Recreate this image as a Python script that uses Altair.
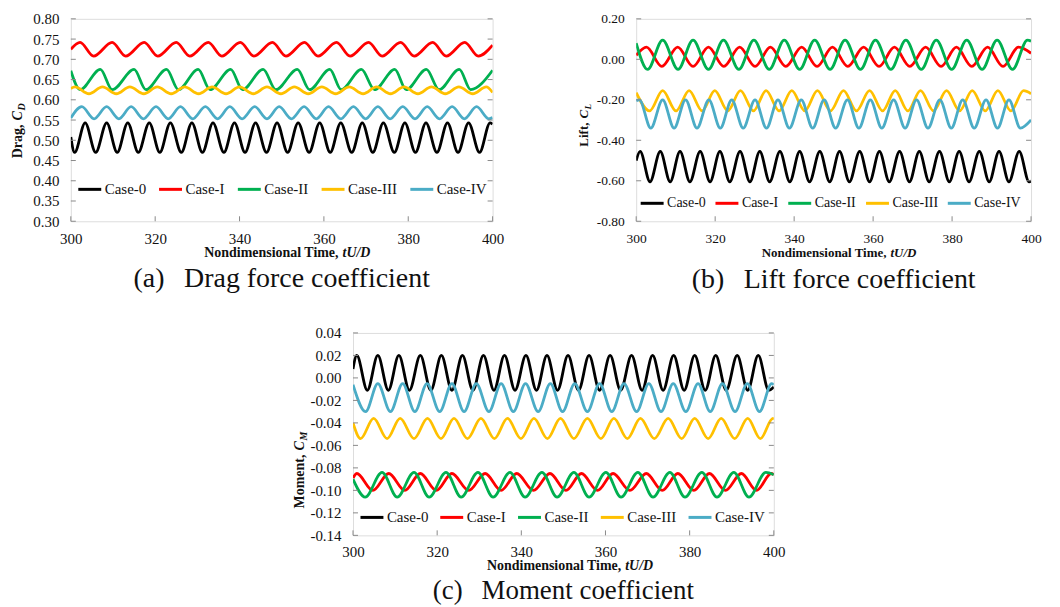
import altair as alt
import pandas as pd

CASES = ["Case-0", "Case-I", "Case-II", "Case-III", "Case-IV"]
COLORS = ["#000000", "#FF0000", "#00B050", "#FFC000", "#4BACC6"]
SERIF = "Liberation Serif"
FRAME = "#8a8a8a"
NB = "\u00a0"

X_TICKS = [300, 320, 340, 360, 380, 400]
DRAG_TICKS = [0.30, 0.35, 0.40, 0.45, 0.50, 0.55, 0.60, 0.65, 0.70, 0.75, 0.80]
LIFT_TICKS = [-0.80, -0.60, -0.40, -0.20, 0.00, 0.20]
MOM_TICKS = [-0.14, -0.12, -0.10, -0.08, -0.06, -0.04, -0.02, 0.00, 0.02, 0.04]

# levels = [peak value, trough value, value at t=300, value at t=400]
# ---- (a) drag ----
drag0_peaks = [303.4, 308.5, 313.5, 318.6, 323.6, 328.7, 333.7, 338.8, 343.8, 348.9, 353.9, 359.0, 364.0, 369.1, 374.1, 379.2, 384.2, 389.3, 394.3, 399.4]
drag0_troughs = [300.9, 305.9, 311.0, 316.0, 321.1, 326.2, 331.2, 336.3, 341.3, 346.4, 351.4, 356.5, 361.5, 366.6, 371.6, 376.7, 381.7, 386.8, 391.8, 396.9]
drag0_levels = [0.543, 0.470, 0.508, 0.540]
drag1_peaks = [302.2, 309.8, 317.4, 325.0, 332.6, 340.2, 347.8, 355.4, 363.0, 370.6, 378.2, 385.8, 393.4]
drag1_troughs = [305.4, 313.0, 320.6, 328.2, 335.8, 343.4, 351.0, 358.6, 366.2, 373.8, 381.4, 389.0, 396.6]
drag1_levels = [0.742, 0.708, 0.725, 0.735]
drag2_peaks = [307.0, 315.0, 322.7, 330.2, 337.9, 345.6, 353.7, 361.4, 368.9, 376.8, 384.3, 392.1]
drag2_troughs = [302.2, 309.8, 317.8, 325.5, 333.0, 340.7, 348.6, 356.6, 364.1, 372.0, 379.5, 387.3, 394.8]
drag2_levels = [0.675, 0.625, 0.672, 0.673]
drag3_peaks = [301.0, 307.5, 314.0, 320.5, 327.0, 333.5, 340.0, 346.5, 353.0, 359.5, 366.0, 372.5, 379.0, 385.5, 392.0, 398.5]
drag3_troughs = [304.3, 310.8, 317.3, 323.8, 330.3, 336.8, 343.3, 349.8, 356.3, 362.8, 369.3, 375.8, 382.3, 388.8, 395.3]
drag3_levels = [0.632, 0.615, 0.628, 0.618]
drag4_peaks = [302.6, 308.5, 314.3, 320.2, 326.0, 331.9, 337.7, 343.6, 349.4, 355.3, 361.1, 367.0, 372.8, 378.7, 384.5, 390.4, 396.2]
drag4_troughs = [305.5, 311.4, 317.2, 323.1, 328.9, 334.8, 340.6, 346.5, 352.3, 358.2, 364.0, 369.9, 375.7, 381.6, 387.4, 393.3, 399.1]
drag4_levels = [0.583, 0.553, 0.555, 0.556]

# ---- (b) lift ----
lift0_peaks = [301.0, 306.1, 311.1, 316.2, 321.2, 326.3, 331.3, 336.4, 341.4, 346.5, 351.5, 356.6, 361.6, 366.7, 371.7, 376.8, 381.8, 386.9, 391.9, 397.0]
lift0_troughs = [303.5, 308.6, 313.6, 318.7, 323.7, 328.8, 333.8, 338.9, 343.9, 349.0, 354.0, 359.1, 364.1, 369.2, 374.2, 379.3, 384.3, 389.4, 394.4, 399.5]
lift0_levels = [-0.455, -0.605, -0.50, -0.600]
lift1_peaks = [302.6, 310.5, 318.3, 326.2, 334.0, 341.9, 349.7, 357.6, 365.4, 373.3, 381.1, 389.0, 396.8]
lift1_troughs = [306.5, 314.4, 322.2, 330.1, 337.9, 345.8, 353.6, 361.5, 369.3, 377.2, 385.0, 392.9]
lift1_levels = [0.060, -0.035, 0.020, 0.030]
lift2_peaks = [306.7, 314.4, 322.1, 329.8, 337.5, 345.2, 352.9, 360.6, 368.3, 376.0, 383.7, 391.4, 399.1]
lift2_troughs = [302.9, 310.6, 318.3, 326.0, 333.7, 341.4, 349.1, 356.8, 364.5, 372.2, 379.9, 387.6, 395.3]
lift2_levels = [0.095, -0.050, 0.080, 0.090]
lift3_peaks = [306.7, 313.4, 319.9, 326.4, 332.9, 339.4, 345.9, 352.5, 359.1, 365.6, 372.0, 378.6, 385.1, 391.6, 398.1]
lift3_troughs = [303.4, 310.1, 316.7, 323.2, 329.7, 336.2, 342.7, 349.2, 355.8, 362.4, 368.8, 375.3, 381.9, 388.4, 394.9]
lift3_levels = [-0.155, -0.255, -0.165, -0.170]
lift4_peaks = [300.8, 306.7, 312.5, 318.4, 324.2, 330.1, 335.9, 341.8, 347.6, 353.5, 359.3, 365.2, 371.0, 376.9, 382.7, 388.6, 394.4]
lift4_troughs = [303.7, 309.6, 315.4, 321.3, 327.1, 333.0, 338.8, 344.7, 350.5, 356.4, 362.2, 368.1, 373.9, 379.8, 385.6, 391.5, 397.3]
lift4_levels = [-0.200, -0.340, -0.205, -0.300]

# ---- (c) moment ----
mom0_peaks = [300.9, 305.9, 310.9, 316.0, 321.0, 326.0, 331.0, 336.0, 341.1, 346.1, 351.1, 356.1, 361.1, 366.2, 371.2, 376.2, 381.2, 386.2, 391.3, 396.3]
mom0_troughs = [303.4, 308.4, 313.4, 318.5, 323.5, 328.5, 333.5, 338.5, 343.6, 348.6, 353.6, 358.6, 363.6, 368.7, 373.7, 378.7, 383.7, 388.7, 393.8, 398.8]
mom0_levels = [0.020, -0.011, 0.008, -0.008]
mom1_peaks = [300.9, 308.5, 316.0, 323.5, 331.4, 338.9, 346.8, 354.3, 361.8, 369.7, 377.2, 384.7, 392.3, 399.4]
mom1_troughs = [304.7, 312.3, 319.8, 327.5, 335.2, 342.9, 350.6, 358.1, 365.8, 373.5, 381.0, 388.5, 395.9]
mom1_levels = [-0.085, -0.100, -0.089, -0.086]
mom2_peaks = [306.9, 314.5, 322.1, 329.7, 337.3, 344.9, 352.5, 360.1, 367.7, 375.3, 382.9, 390.5, 398.1]
mom2_troughs = [302.9, 310.5, 318.1, 325.7, 333.3, 340.9, 348.5, 356.1, 363.7, 371.3, 378.9, 386.5, 394.1]
mom2_levels = [-0.084, -0.106, -0.090, -0.086]
mom3_peaks = [304.9, 311.2, 317.7, 324.0, 330.4, 336.7, 343.0, 349.3, 355.7, 362.0, 368.3, 374.9, 381.2, 387.5, 393.8, 399.8]
mom3_troughs = [301.8, 308.1, 314.5, 320.9, 327.2, 333.6, 339.9, 346.2, 352.5, 358.9, 365.2, 371.6, 378.1, 384.4, 390.7, 396.8]
mom3_levels = [-0.036, -0.054, -0.040, -0.037]
mom4_peaks = [305.9, 311.8, 317.6, 323.5, 329.3, 335.2, 341.0, 346.9, 352.7, 358.6, 364.4, 370.3, 376.1, 382.0, 387.8, 393.7, 399.5]
mom4_troughs = [303.0, 308.9, 314.7, 320.6, 326.4, 332.3, 338.1, 344.0, 349.8, 355.7, 361.5, 367.4, 373.2, 379.1, 384.9, 390.8, 396.6]
mom4_levels = [-0.005, -0.030, -0.006, -0.006]


def build_df(series):
    rows = []
    for case, (pk, tr, lv) in zip(CASES, series):
        pts = [(300.0, lv[2])] + [(t, lv[0]) for t in pk] + [(t, lv[1]) for t in tr] + [(400.0, lv[3])]
        pts.sort()
        for i, (t, v) in enumerate(pts):
            rows.append({"case": case, "t": t, "v": v, "o": i})
    return pd.DataFrame(rows)


ONE = pd.DataFrame({"a": [0]})


def txt(x, y, s, size, weight="normal", style="normal", align="center", baseline="middle", angle=0, opacity=1):
    return alt.Chart(ONE).mark_text(
        font=SERIF, fontSize=size, fontWeight=weight, fontStyle=style, align=align,
        baseline=baseline, angle=angle, color="#111111", opacity=opacity,
    ).encode(x=alt.value(x), y=alt.value(y), text=alt.value(s))


def panel(series, ydom, yticks, w, h, p):
    df = build_df(series)
    xs = alt.Scale(domain=[300, 400], nice=False, zero=False)
    ys = alt.Scale(domain=ydom, nice=False, zero=False)
    lab = "replace(format(datum.value, '.2f'), '\u2212', '-')"
    xaxis = alt.Axis(values=X_TICKS, format="d", ticks=False, tickSize=0, domain=False, grid=False,
                     title=None, labelFont=SERIF, labelFontSize=p["fs"], labelColor="#111111",
                     labelPadding=p["xpad"], labelFlush=False, labelOverlap=False)
    yaxis = alt.Axis(values=yticks, labelExpr=lab, ticks=False, tickSize=0, domain=False, grid=False,
                     title=None, labelFont=SERIF, labelFontSize=p["fs"], labelColor="#111111",
                     labelPadding=p["ypad"], labelFlush=False, labelOverlap=False)
    lines = alt.Chart(df).mark_line(interpolate="monotone", strokeWidth=2.8, clip=True).encode(
        x=alt.X("t:Q", scale=xs, axis=xaxis),
        y=alt.Y("v:Q", scale=ys, axis=yaxis),
        color=alt.Color("case:N", scale=alt.Scale(domain=CASES, range=COLORS),
                        legend=alt.Legend(orient="none", legendX=p["lx"], legendY=p["ly"],
                                          direction="horizontal", title=None, symbolType="stroke",
                                          symbolStrokeWidth=3, symbolSize=529, labelFont=SERIF,
                                          labelFontSize=p["lfs"], labelColor="#111111",
                                          columnPadding=p["lgap"], labelOffset=2, padding=0)),
        order="o:Q",
    )
    ytdf = pd.DataFrame({"v": yticks})
    xtdf = pd.DataFrame({"t": X_TICKS})
    tl = alt.Chart(ytdf).mark_rule(color=FRAME, strokeWidth=1).encode(
        y=alt.Y("v:Q", scale=ys, axis=yaxis), x=alt.value(0), x2=alt.value(5))
    tr = alt.Chart(ytdf).mark_rule(color=FRAME, strokeWidth=1).encode(
        y=alt.Y("v:Q", scale=ys, axis=yaxis), x=alt.value(w - 5), x2=alt.value(w))
    tb = alt.Chart(xtdf).mark_rule(color=FRAME, strokeWidth=1).encode(
        x=alt.X("t:Q", scale=xs, axis=xaxis), y=alt.value(h - 5), y2=alt.value(h))
    cx = w / 2
    layers = [lines, tl, tr, tb,
              txt(cx + p["split"], h + p["xt"], "Nondimensional Time,", p["tfs"], "bold", align="right"),
              txt(cx + p["split"] + 4, h + p["xt"], "tU/D", p["tfs"], "bold", "italic", align="left"),
              txt(p["yx"], p["ysplit"], p["yname"], p["tfs"], "bold", align="right", angle=270),
              txt(p["yx"], p["ysplit"] - 4, "C", p["tfs"], "bold", "italic", align="left", angle=270),
              txt(p["yx"] + 4, p["ysplit"] - 4 - p["cw"], p["sub"], p["tfs"] - 4, "bold", "italic",
                  align="left", angle=270),
              txt(cx, h + p["cap"], p["caption"], p["capfs"]),
              txt(p["left"], -8, ".", 1, opacity=0, align="left"),
              txt(w + p["right"], h + 75, ".", 1, opacity=0, align="right")]
    return alt.layer(*layers).properties(width=w, height=h)


H = 203
GAP = NB + NB + "\u2009"
pa = dict(fs=15, xpad=10, ypad=12, lx=6, ly=158, lfs=15, lgap=6, tfs=14, split=57, xt=32,
          yx=-53, ysplit=106, yname="Drag,", sub="D", cw=10,
          caption="(a)" + GAP + "Drag force coefficient", capfs=28, cap=58, left=-62, right=20)
pb = dict(fs=13.5, xpad=10, ypad=12, lx=3, ly=172, lfs=14, lgap=3, tfs=13, split=53, xt=32,
          yx=-52, ysplit=104, yname="Lift,", sub="L", cw=9,
          caption="(b)" + GAP + "Lift force coefficient", capfs=28, cap=59, left=-60, right=20)
pc = dict(fs=15, xpad=9, ypad=12, lx=6, ly=172, lfs=15, lgap=5, tfs=14, split=58, xt=31,
          yx=-53, ysplit=122, yname="Moment,", sub="M", cw=10,
          caption="(c)" + GAP + "Moment coefficient", capfs=27, cap=56, left=-60, right=20)

A = panel([(drag0_peaks, drag0_troughs, drag0_levels), (drag1_peaks, drag1_troughs, drag1_levels),
           (drag2_peaks, drag2_troughs, drag2_levels), (drag3_peaks, drag3_troughs, drag3_levels),
           (drag4_peaks, drag4_troughs, drag4_levels)], [0.30, 0.80], DRAG_TICKS, 423, H, pa)
B = panel([(lift0_peaks, lift0_troughs, lift0_levels), (lift1_peaks, lift1_troughs, lift1_levels),
           (lift2_peaks, lift2_troughs, lift2_levels), (lift3_peaks, lift3_troughs, lift3_levels),
           (lift4_peaks, lift4_troughs, lift4_levels)], [-0.80, 0.20], LIFT_TICKS, 396, H, pb)
C = panel([(mom0_peaks, mom0_troughs, mom0_levels), (mom1_peaks, mom1_troughs, mom1_levels),
           (mom2_peaks, mom2_troughs, mom2_levels), (mom3_peaks, mom3_troughs, mom3_levels),
           (mom4_peaks, mom4_troughs, mom4_levels)], [-0.14, 0.04], MOM_TICKS, 422, H, pc)

spacer = alt.Chart(ONE).mark_text(opacity=0).encode(
    x=alt.value(0), y=alt.value(0), text=alt.value(".")
).properties(width=221, height=10, view=alt.ViewBackground(stroke="transparent"))

top = alt.hconcat(A, B, spacing=62).resolve_scale(color="independent", x="independent", y="independent").resolve_legend(color="independent")
bottom = alt.hconcat(spacer, C, spacing=0).resolve_scale(color="independent", x="independent", y="independent").resolve_legend(color="independent")
chart = alt.vconcat(top, bottom, spacing=26).resolve_scale(color="independent", x="independent", y="independent").resolve_legend(color="independent").properties(
    padding={"left": 0, "top": 0, "right": 0, "bottom": 0}
).configure_view(stroke=FRAME, strokeWidth=1).configure(background="white")

chart.save("out.html", embed_options={"renderer": "svg", "actions": False})
